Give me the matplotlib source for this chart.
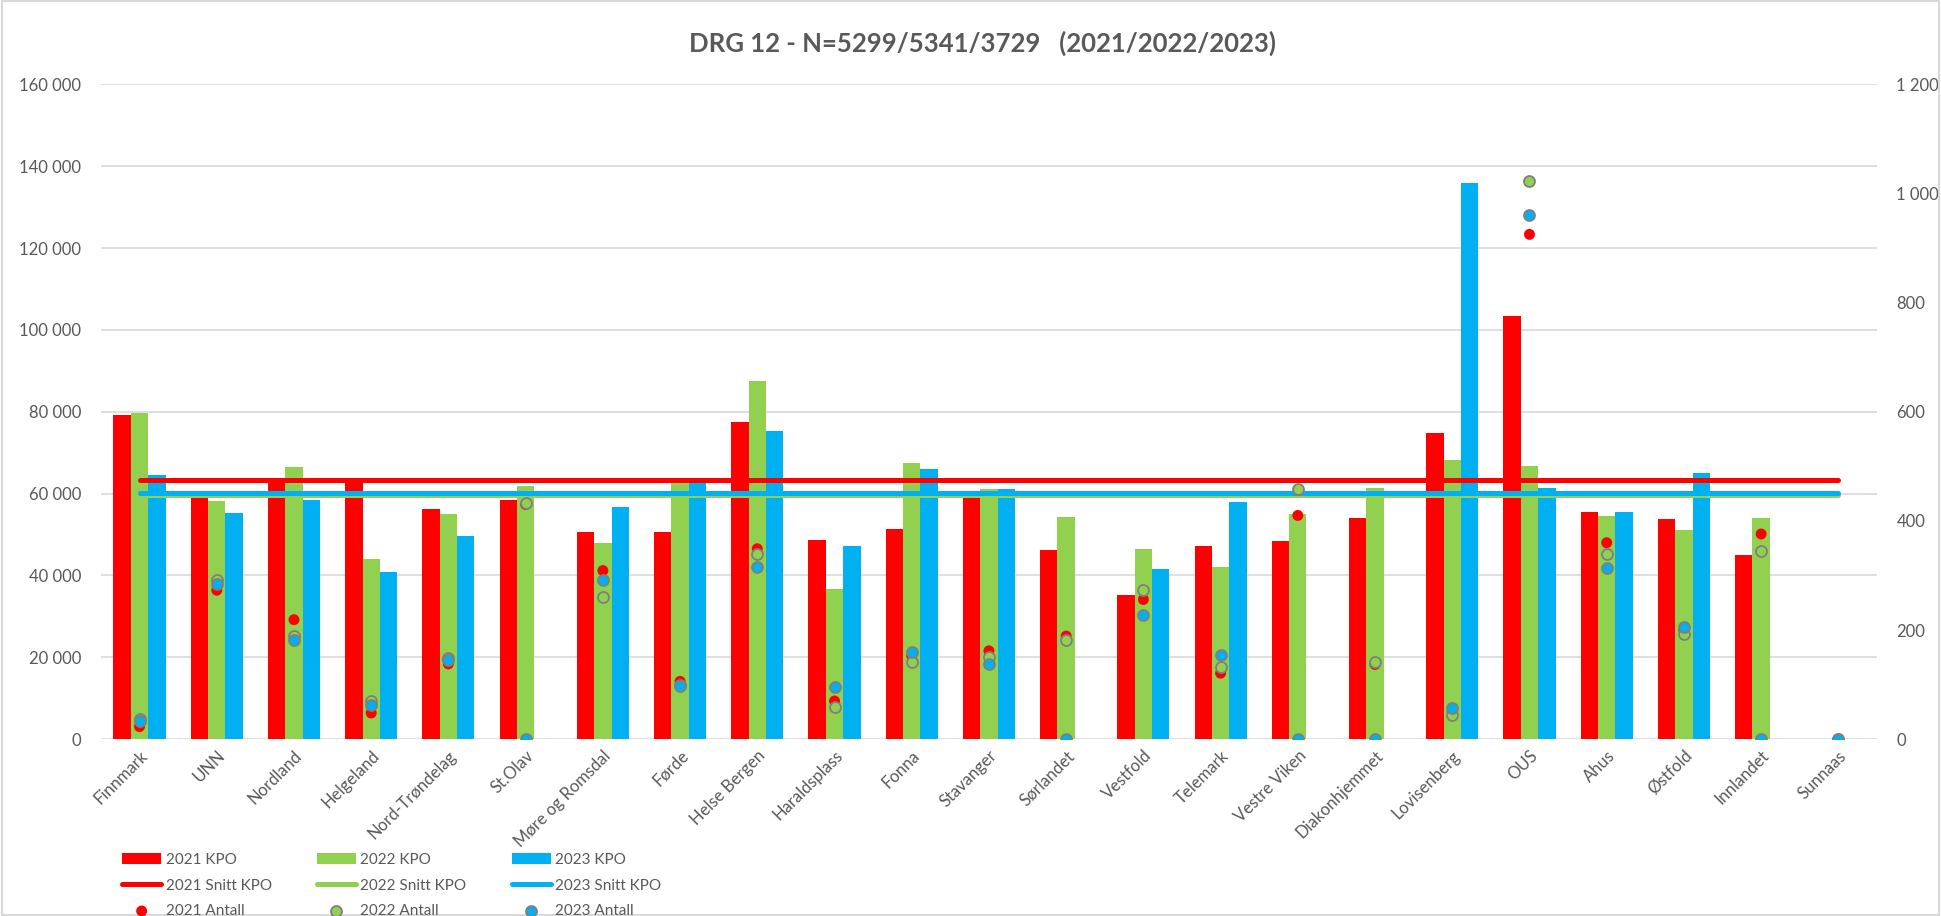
import matplotlib.pyplot as plt
import numpy as np
from matplotlib.patches import Rectangle
from matplotlib.ticker import FuncFormatter

plt.rcParams['font.family'] = ['Lato', 'DejaVu Sans']

hospitals = ["Finnmark", "UNN", "Nordland", "Helgeland", "Nord-Trøndelag", "St.Olav",
             "Møre og Romsdal", "Førde", "Helse Bergen", "Haraldsplass", "Fonna",
             "Stavanger", "Sørlandet", "Vestfold", "Telemark", "Vestre Viken",
             "Diakonhjemmet", "Lovisenberg", "OUS", "Ahus", "Østfold", "Innlandet", "Sunnaas"]

# KPO per hospital (left axis)
kpo_2021 = [79200, 59400, 63000, 63000, 56300, 58500, 50700, 50700, 77600, 48600, 51300,
            59400, 46200, 35300, 47200, 48400, 54000, 74900, 103300, 55400, 53700, 45000, 0]
kpo_2022 = [79800, 58300, 66400, 44000, 55100, 61900, 47900, 62600, 87400, 36600, 67400,
            61200, 54200, 46400, 42100, 54900, 61400, 68300, 66700, 54500, 51100, 54000, 0]
kpo_2023 = [64500, 55300, 58500, 40900, 49600, 0, 56800, 62600, 75200, 47300, 66000,
            61200, 0, 41600, 58000, 0, 0, 135900, 61400, 55600, 65000, 0, 0]

# average KPO (snitt)
snitt_2021 = 63300
snitt_2022 = 59700
snitt_2023 = 60200

# number of patients (right axis)
antall_2021 = [23, 273, 219, 48, 138, 430, 309, 106, 349, 70, 153, 162, 189, 256, 121,
               410, 137, 50, 925, 360, 200, 376, 0]
antall_2022 = [37, 291, 190, 70, 149, 432, 260, 100, 339, 59, 141, 150, 181, 274, 133,
               458, 142, 45, 1023, 339, 192, 344, 0]
antall_2023 = [34, 285, 182, 63, 146, 0, 291, 98, 316, 96, 159, 137, 0, 227, 155,
               0, 0, 57, 961, 313, 205, 0, 0]

RED = "#FF0000"
GREEN = "#92D050"
BLUE = "#00B0F0"
GREY = "#595959"
EDGE = "#7F7F7F"

fig = plt.figure(figsize=(19.41, 9.16), dpi=100)
ax = fig.add_axes([0.052, 0.193, 0.915, 0.715])

x = np.arange(len(hospitals))
w = 0.225

b1 = ax.bar(x - w, kpo_2021, w, color=RED, label="2021 KPO", zorder=2)
b2 = ax.bar(x, kpo_2022, w, color=GREEN, label="2022 KPO", zorder=2)
b3 = ax.bar(x + w, kpo_2023, w, color=BLUE, label="2023 KPO", zorder=2)

l2, = ax.plot([x[0], x[-1]], [snitt_2022] * 2, color=GREEN, lw=3.6, zorder=3,
              solid_capstyle="round", label="2022 Snitt KPO")
l3, = ax.plot([x[0], x[-1]], [snitt_2023] * 2, color=BLUE, lw=3.6, zorder=3,
              solid_capstyle="round", label="2023 Snitt KPO")
l1, = ax.plot([x[0], x[-1]], [snitt_2021] * 2, color=RED, lw=3.6, zorder=3,
              solid_capstyle="round", label="2021 Snitt KPO")

ax.set_xlim(-0.5, len(hospitals) - 0.5)
ax.set_ylim(0, 160000)
ax.set_yticks(np.arange(0, 160001, 20000))
fmt = FuncFormatter(lambda v, p: f"{int(v):,}".replace(",", " "))
ax.yaxis.set_major_formatter(fmt)
ax.grid(axis="y", color="#D9D9D9", lw=1.2, zorder=0)
ax.set_axisbelow(True)
ax.set_xticks(x)
ax.set_xticklabels(hospitals, rotation=45, ha="right", rotation_mode="anchor")
ax.tick_params(axis="both", length=0, colors=GREY, labelsize=12)
ax.tick_params(axis="y", pad=14)
ax.tick_params(axis="x", pad=6)
for s in ax.spines.values():
    s.set_visible(False)

ax2 = ax.twinx()
ax2.set_ylim(0, 1200)
ax2.set_yticks(np.arange(0, 1201, 200))
ax2.yaxis.set_major_formatter(fmt)
ax2.tick_params(axis="y", length=0, colors=GREY, labelsize=12, pad=14)
for s in ax2.spines.values():
    s.set_visible(False)

s1 = ax2.scatter(x, antall_2021, s=62, color=RED, edgecolors="none", label="2021 Antall", zorder=4)
s2 = ax2.scatter(x, antall_2022, s=62, color=GREEN, edgecolors=EDGE, linewidths=1.3,
                 label="2022 Antall", zorder=5)
s3 = ax2.scatter(x, antall_2023, s=62, color=BLUE, edgecolors=EDGE, linewidths=1.3,
                 label="2023 Antall", zorder=6)

fig.text(0.506, 0.953, "DRG 12 - N=5299/5341/3729   (2021/2022/2023)", ha="center", va="center",
         fontsize=18.5, fontweight="bold", color=GREY)

handles = [b1, l1, s1, b2, l2, s2, b3, l3, s3]
leg = fig.legend(handles, [h.get_label() for h in handles], ncol=3, loc="upper left",
                 bbox_to_anchor=(0.059, 0.077), frameon=False, fontsize=11,
                 handlelength=2.55, handletextpad=0.3, columnspacing=2.95,
                 labelspacing=0.75, borderpad=0)
for t in leg.get_texts():
    t.set_color(GREY)

fig.patches.append(Rectangle((0.001, 0.001), 0.998, 0.998, transform=fig.transFigure,
                             fill=False, edgecolor="#D9D9D9", lw=1.5))

fig.savefig("out.png", dpi=100)
